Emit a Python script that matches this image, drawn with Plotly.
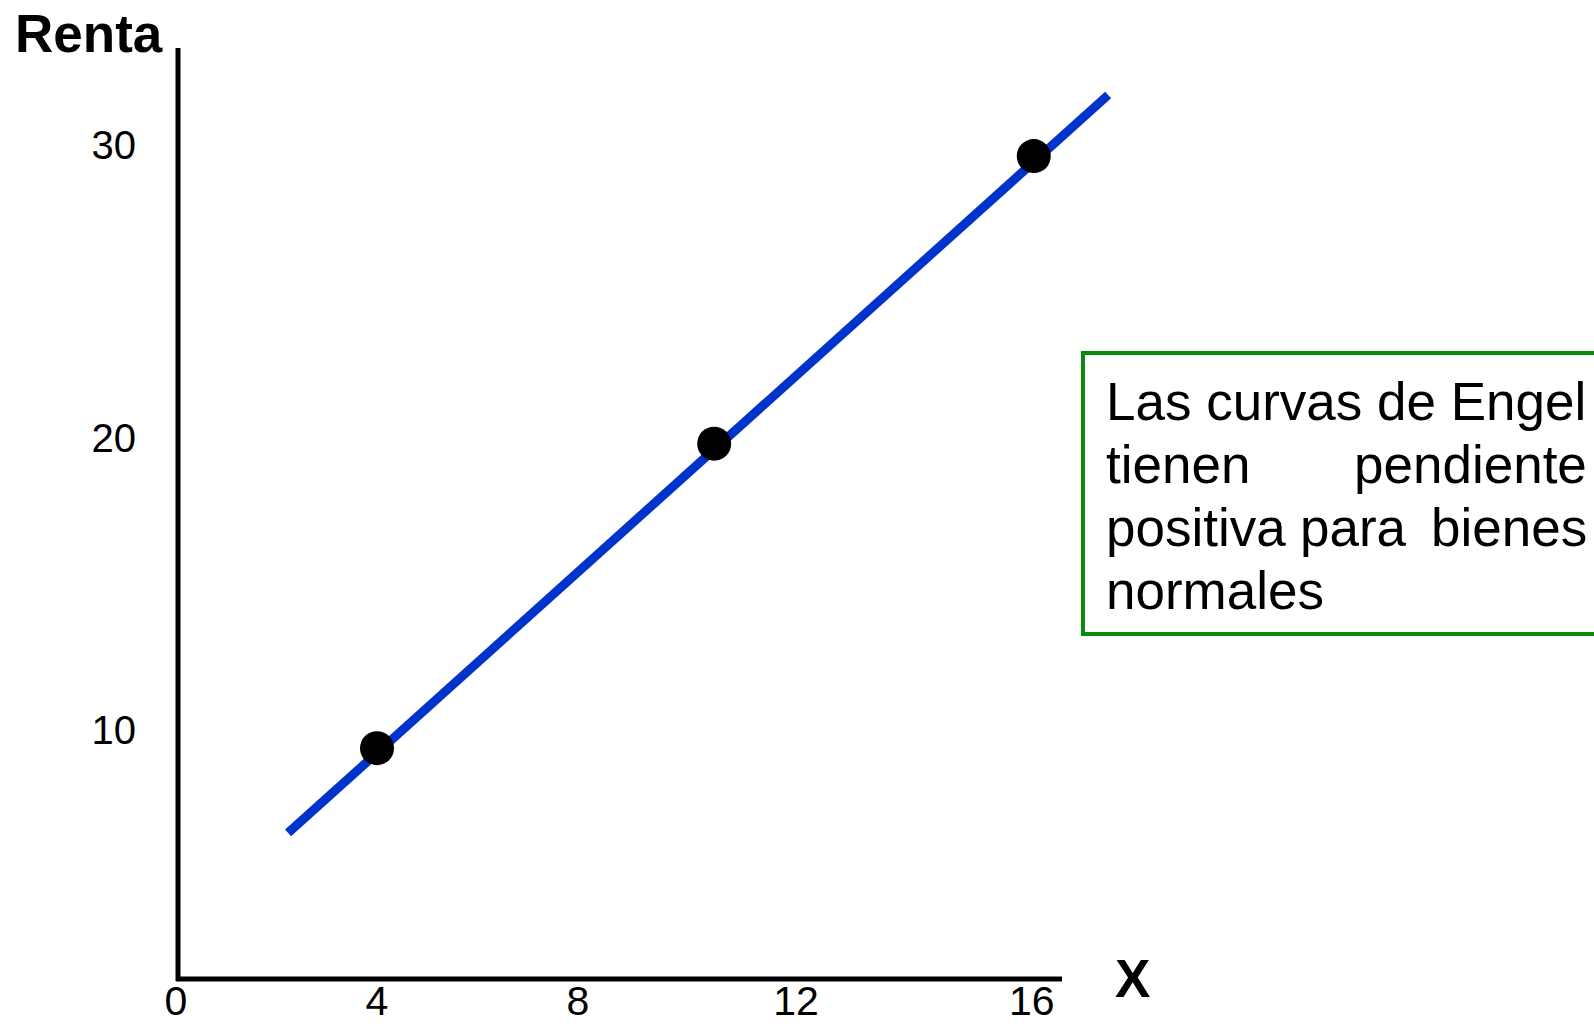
import plotly.graph_objects as go

W, H = 1594, 1027

# ---- data ----
engel_x = [2.23, 18.55]          # ends of the Engel curve
engel_y = [6.48, 31.71]
point_x = [4.0, 10.71, 17.07]    # marked bundles
point_y = [9.38, 19.79, 29.62]
xtick_vals = [0, 4, 8, 12.34, 17.03]
xtick_text = ["0", "4", "8", "12", "16"]
ytick_vals = [10, 20, 30]
ytick_text = ["10", "20", "30"]
note_lines = ["Las curvas de Engel", "tienen pendiente", "positiva para bienes", "normales"]

def px(p):
    return p / W

def py(p):
    return 1 - p / H

fig = go.Figure()
fig.add_trace(go.Scatter(x=engel_x, y=engel_y, mode="lines",
                         line=dict(color="#0033cc", width=9), hoverinfo="skip"))
fig.add_trace(go.Scatter(x=point_x, y=point_y, mode="markers",
                         marker=dict(color="black", size=34, line=dict(width=0)),
                         cliponaxis=False, hoverinfo="skip"))

font = "Liberation Sans, Arial, sans-serif"

fig.update_layout(
    template="none",
    width=W, height=H, margin=dict(l=0, r=0, t=0, b=0, autoexpand=False),
    paper_bgcolor="white", plot_bgcolor="white", showlegend=False,
    xaxis=dict(domain=[px(176), px(1120)], range=[0, 944 / 50.25], automargin=False,
               showgrid=False, zeroline=False, showline=False,
               tickvals=xtick_vals, ticktext=xtick_text, ticks="",
               ticklabelstandoff=-6,
               tickfont=dict(family=font, size=41, color="black")),
    yaxis=dict(domain=[py(979), py(48)], range=[10 - (979 - 730) / 29.25, 30 + (145 - 48) / 29.25],
               automargin=False,
               showgrid=False, zeroline=False, showline=False,
               tickvals=ytick_vals, ticktext=ytick_text, ticks="",
               ticklabelstandoff=39,
               tickfont=dict(family=font, size=40, color="black")),
)

# axis lines
fig.add_shape(type="line", xref="paper", yref="paper", x0=px(178), x1=px(178), y0=py(48), y1=py(981),
              line=dict(color="black", width=5))
fig.add_shape(type="line", xref="paper", yref="paper", x0=px(176), x1=px(1062), y0=py(979), y1=py(979),
              line=dict(color="black", width=5))

# axis titles
fig.add_annotation(text="<b>Renta</b>", xref="paper", yref="paper", x=px(13), y=py(33),
                   xanchor="left", yanchor="middle", showarrow=False,
                   font=dict(family=font, size=53, color="black"))
fig.add_annotation(text="<b>X</b>", xref="paper", yref="paper", x=px(1132), y=py(978),
                   xanchor="center", yanchor="middle", showarrow=False,
                   font=dict(family=font, size=53, color="black"))

# note box
fig.add_shape(type="rect", xref="paper", yref="paper", x0=px(1083), x1=px(1610), y0=py(353), y1=py(634),
              line=dict(color="#0a8a0a", width=4), fillcolor="rgba(0,0,0,0)")
nfont = dict(family=font, size=53, color="black")
line_y = [401, 464, 527, 590]
left = 1104
right = 1589
fig.add_annotation(text=note_lines[0], xref="paper", yref="paper", x=px(left), y=py(line_y[0]),
                   xanchor="left", yanchor="middle", showarrow=False, font=nfont)
w2 = note_lines[1].split(" ")
fig.add_annotation(text=w2[0], xref="paper", yref="paper", x=px(left), y=py(line_y[1]),
                   xanchor="left", yanchor="middle", showarrow=False, font=nfont)
fig.add_annotation(text=w2[1], xref="paper", yref="paper", x=px(right), y=py(line_y[1]),
                   xanchor="right", yanchor="middle", showarrow=False, font=nfont)
w3 = note_lines[2].split(" ")
fig.add_annotation(text=w3[0], xref="paper", yref="paper", x=px(left), y=py(line_y[2]),
                   xanchor="left", yanchor="middle", showarrow=False, font=nfont)
fig.add_annotation(text=w3[1], xref="paper", yref="paper", x=px(1353), y=py(line_y[2]),
                   xanchor="center", yanchor="middle", showarrow=False, font=nfont)
fig.add_annotation(text=w3[2], xref="paper", yref="paper", x=px(right), y=py(line_y[2]),
                   xanchor="right", yanchor="middle", showarrow=False, font=nfont)
fig.add_annotation(text=note_lines[3], xref="paper", yref="paper", x=px(left), y=py(line_y[3]),
                   xanchor="left", yanchor="middle", showarrow=False, font=nfont)

fig.write_html("out.html")
